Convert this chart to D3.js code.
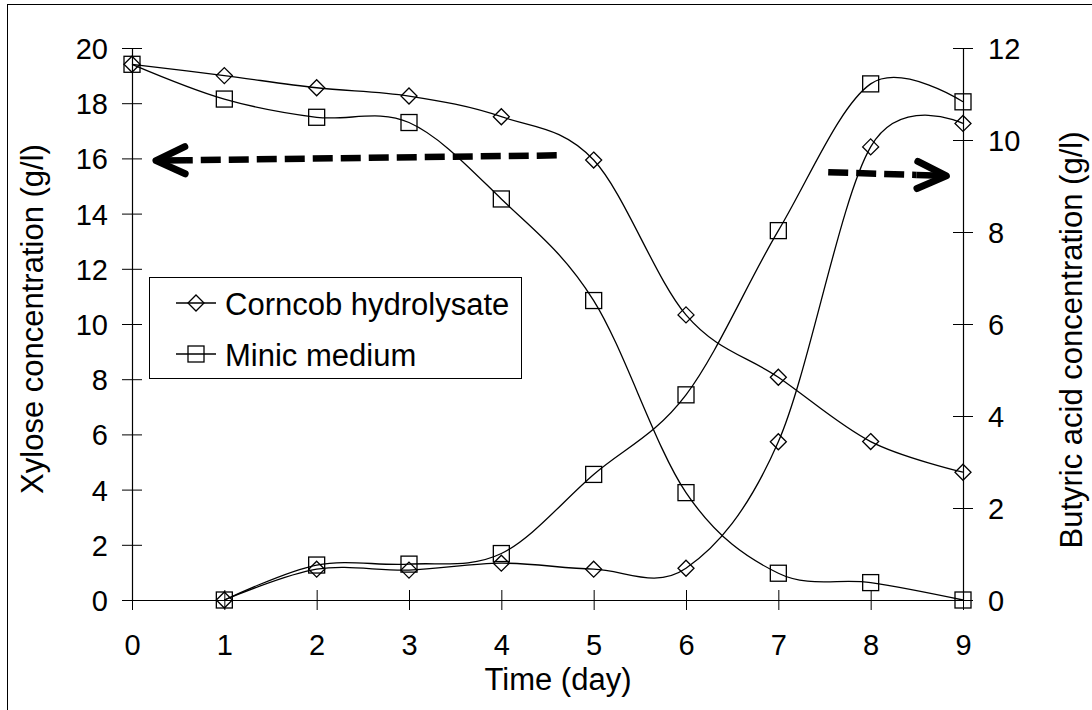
<!DOCTYPE html>
<html>
<head>
<meta charset="utf-8">
<script src="https://cdn.jsdelivr.net/npm/d3@7"></script>
<style>
  html, body { margin: 0; padding: 0; background: #fff; }
  svg { display: block; font-family: "Liberation Sans", Arial, sans-serif; }
</style>
</head>
<body>
<svg id="chart" width="1092" height="710"></svg>
<script>
// ---- data ----
const days = [0, 1, 2, 3, 4, 5, 6, 7, 8, 9];
const xyloseCorncob = [19.41, 19.0, 18.56, 18.26, 17.51, 15.94, 10.33, 8.07, 5.74, 4.63];
const xyloseMinic   = [19.41, 18.15, 17.49, 17.30, 14.53, 10.85, 3.89, 0.97, 0.63, 0.0];
const butyricDays = [1, 2, 3, 4, 5, 6, 7, 8, 9];
const butyricCorncob = [0, 0.67, 0.65, 0.80, 0.67, 0.69, 3.44, 9.85, 10.36];
const butyricMinic   = [0, 0.76, 0.78, 1.01, 2.73, 4.46, 8.03, 11.22, 10.83];
const leftTicks = [0, 2, 4, 6, 8, 10, 12, 14, 16, 18, 20];
const rightTicks = [0, 2, 4, 6, 8, 10, 12];
const seriesNames = ["Corncob hydrolysate", "Minic medium"];
const xTitle = "Time (day)";
const yLeftTitle = "Xylose concentration (g/l)";
const yRightTitle = "Butyric acid concentration (g/l)";
// annotation arrows (data units: [day, value] on the given axis)
const leftArrow = { from: [4.60, 16.11], to: [0.26, 15.92] };   // left axis
const rightArrow = { from: [7.54, 9.30], to: [8.82, 9.22] };   // right axis

// ---- layout ----
const svg = d3.select("#chart");
const x = d3.scaleLinear().domain([0, 9]).range([132, 963]);
const yL = d3.scaleLinear().domain([0, 20]).range([600, 48]);
const yR = d3.scaleLinear().domain([0, 12]).range([600, 48]);

// outer frame
svg.append("rect").attr("x", 7.5).attr("y", 4.5).attr("width", 1200).attr("height", 800)
  .attr("fill", "none").attr("stroke", "#000").attr("stroke-width", 1);

const tickFont = 29, titleFont = 31;

// x axis
const gx = svg.append("g").attr("transform", `translate(0,${yL(0)})`)
  .call(d3.axisBottom(x).tickValues(days).tickFormat(d3.format("d")).tickSizeInner(10).tickSizeOuter(0).tickPadding(0));
gx.select(".domain").attr("stroke", "#000").attr("stroke-width", 1.2);
gx.selectAll(".tick line").attr("y1", -10).attr("y2", 10).attr("stroke", "#000");
gx.selectAll(".tick text").attr("font-size", tickFont).attr("fill", "#000")
  .attr("y", 55).attr("dy", 0).attr("font-family", "Liberation Sans, Arial, sans-serif");

// left axis
const gl = svg.append("g").attr("transform", `translate(${x(0)},0)`)
  .call(d3.axisLeft(yL).tickValues(leftTicks).tickFormat(d3.format("d")).tickSizeInner(10).tickSizeOuter(0).tickPadding(0));
gl.select(".domain").attr("stroke", "#000").attr("stroke-width", 1.2);
gl.selectAll(".tick line").attr("x1", -10).attr("x2", 10).attr("stroke", "#000");
gl.selectAll(".tick text").attr("font-size", tickFont).attr("fill", "#000")
  .attr("x", -24).attr("dy", "0.36em").attr("font-family", "Liberation Sans, Arial, sans-serif");

// right axis
const gr = svg.append("g").attr("transform", `translate(${x(9)},0)`)
  .call(d3.axisRight(yR).tickValues(rightTicks).tickFormat(d3.format("d")).tickSizeInner(10).tickSizeOuter(0).tickPadding(0));
gr.select(".domain").attr("stroke", "#000").attr("stroke-width", 1.2);
gr.selectAll(".tick line").attr("x1", -10).attr("x2", 10).attr("stroke", "#000");
gr.selectAll(".tick text").attr("font-size", tickFont).attr("fill", "#000")
  .attr("x", 25).attr("dy", "0.36em").attr("font-family", "Liberation Sans, Arial, sans-serif");

// axis titles
svg.append("text").attr("x", 558).attr("y", 690).attr("text-anchor", "middle")
  .attr("font-size", titleFont).text(xTitle);
svg.append("text").attr("transform", `translate(43,319) rotate(-90)`).attr("text-anchor", "middle")
  .attr("font-size", titleFont).text(yLeftTitle);
svg.append("text").attr("transform", `translate(1082,340) rotate(-90)`).attr("text-anchor", "middle")
  .attr("font-size", titleFont).text(yRightTitle);

// series
const curve = d3.curveCardinal.tension(0);
function drawSeries(xs, ys, yScale, marker) {
  const pts = xs.map((d, i) => [x(d), yScale(ys[i])]);
  svg.append("path").attr("d", d3.line().curve(curve)(pts))
    .attr("fill", "none").attr("stroke", "#000").attr("stroke-width", 1.3);
  const g = svg.append("g");
  pts.forEach(p => drawMarker(g, p[0], p[1], marker));
}
function drawMarker(g, cx, cy, marker) {
  if (marker === "diamond") {
    g.append("path").attr("d", `M${cx},${cy - 8}L${cx + 8},${cy}L${cx},${cy + 8}L${cx - 8},${cy}Z`)
      .attr("fill", "none").attr("stroke", "#000").attr("stroke-width", 1.3);
  } else {
    g.append("rect").attr("x", cx - 8).attr("y", cy - 8).attr("width", 16).attr("height", 16)
      .attr("fill", "none").attr("stroke", "#000").attr("stroke-width", 1.3);
  }
}
drawSeries(days, xyloseCorncob, yL, "diamond");
drawSeries(days, xyloseMinic, yL, "square");
drawSeries(butyricDays, butyricCorncob, yR, "diamond");
drawSeries(butyricDays, butyricMinic, yR, "square");

// annotation arrows
function drawArrow(a, yScale) {
  const x1 = x(a.from[0]), y1 = yScale(a.from[1]);
  const x2 = x(a.to[0]), y2 = yScale(a.to[1]);
  const ang = Math.atan2(y2 - y1, x2 - x1);
  const back = 32;
  const sx = x2 - Math.cos(ang) * 30, sy = y2 - Math.sin(ang) * 30;
  svg.append("line").attr("x1", x1).attr("y1", y1).attr("x2", sx).attr("y2", sy)
    .attr("stroke", "#000").attr("stroke-width", 6.5).attr("stroke-dasharray", "20,8");
  svg.append("line").attr("x1", sx).attr("y1", sy).attr("x2", x2 - Math.cos(ang) * 3).attr("y2", y2 - Math.sin(ang) * 3)
    .attr("stroke", "#000").attr("stroke-width", 6.5);
  const spread = 25 * Math.PI / 180;
  const p1 = [x2 - back * Math.cos(ang - spread), y2 - back * Math.sin(ang - spread)];
  const p2 = [x2 - back * Math.cos(ang + spread), y2 - back * Math.sin(ang + spread)];
  svg.append("path").attr("d", `M${p1[0]},${p1[1]}L${x2},${y2}L${p2[0]},${p2[1]}`)
    .attr("fill", "none").attr("stroke", "#000").attr("stroke-width", 7)
    .attr("stroke-linecap", "round").attr("stroke-linejoin", "round");
}
drawArrow(leftArrow, yL);
drawArrow(rightArrow, yR);

// legend
const lg = svg.append("g");
lg.append("rect").attr("x", 149.5).attr("y", 277.5).attr("width", 372).attr("height", 101)
  .attr("fill", "#fff").attr("stroke", "#000").attr("stroke-width", 1);
const markers = ["diamond", "square"];
const rowY = [303, 354];
seriesNames.forEach((name, i) => {
  lg.append("line").attr("x1", 176).attr("x2", 216).attr("y1", rowY[i]).attr("y2", rowY[i])
    .attr("stroke", "#000").attr("stroke-width", 1.3);
  drawMarker(lg, 196, rowY[i], markers[i]);
  lg.append("text").attr("x", 225).attr("y", rowY[i] + 12).attr("font-size", titleFont).text(name);
});
</script>
</body>
</html>
